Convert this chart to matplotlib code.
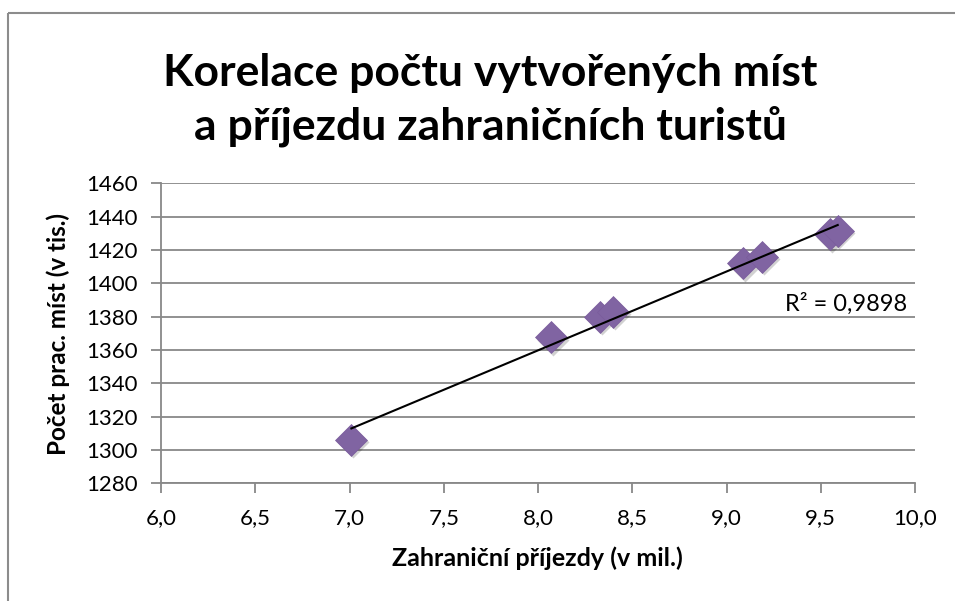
import numpy as np
import matplotlib
matplotlib.use("Agg")
import matplotlib.pyplot as plt
import matplotlib.transforms as mtransforms
from matplotlib.patches import Rectangle

plt.rcParams['font.family'] = ['Lato', 'DejaVu Sans']

# Data
arrivals = [7.01, 8.07, 8.33, 8.40, 9.09, 9.19, 9.55, 9.59]     # Zahraniční příjezdy (v mil.)
jobs = [1306, 1367.5, 1380, 1383, 1412, 1416, 1429.5, 1431.5]    # Počet prac. míst (v tis.)
x_ticks = [6.0, 6.5, 7.0, 7.5, 8.0, 8.5, 9.0, 9.5, 10.0]
y_ticks = [1280, 1300, 1320, 1340, 1360, 1380, 1400, 1420, 1440, 1460]
title = "Korelace počtu vytvořených míst\na příjezdu zahraničních turistů"
xlabel = "Zahraniční příjezdy (v mil.)"
ylabel = "Počet prac. míst (v tis.)"
r2_label = "R² = 0,9898"

W, H = 955, 601
fig = plt.figure(figsize=(W / 100, H / 100), dpi=100)
fig.patch.set_facecolor('white')

# outer chart border (partially off-canvas)
fig.patches.append(Rectangle((8 / W, 1 - 13 / H), 2, -2, transform=fig.transFigure,
                             fill=False, edgecolor='#8c8c8c', lw=1.5))

L, R, T, B = 161, 915, 183.3, 483.3
ax = fig.add_axes([L / W, 1 - B / H, (R - L) / W, (B - T) / H])
ax.set_xlim(6.0, 10.0)
ax.set_ylim(1280, 1460)
ax.set_xticks(x_ticks)
ax.set_yticks(y_ticks)
ax.set_xticklabels([f"{v:.1f}".replace('.', ',') for v in x_ticks])
ax.set_yticklabels([str(v) for v in y_ticks])

for s in ['top', 'right']:
    ax.spines[s].set_visible(False)
for s in ['left', 'bottom']:
    ax.spines[s].set_color('#888888')
    ax.spines[s].set_linewidth(1.3)
ax.tick_params(axis='both', direction='out', length=7, width=1.3, color='#888888',
               labelsize=16, labelcolor='black')
ax.tick_params(axis='x', pad=11)
ax.tick_params(axis='y', pad=10)
ax.yaxis.grid(True, color='#888888', lw=1.3)
ax.set_axisbelow(True)

# shadows
shadow = mtransforms.offset_copy(ax.transData, fig=fig, x=1.5, y=-2.5, units='dots')
ax.plot(arrivals, jobs, linestyle='none', marker='D', ms=16, color='#000000', alpha=0.18,
        mec='none', transform=shadow, zorder=2)
ax.plot(arrivals, jobs, linestyle='none', marker='D', ms=16, color='#8064A2', mec='#7a5c9c',
        mew=0.5, zorder=3)

# linear trendline
coef = np.polyfit(arrivals, jobs, 1)
xs = np.array([min(arrivals), max(arrivals)])
ax.plot(xs, np.polyval(coef, xs), color='black', lw=1.5, zorder=4)

ax.text(9.96, 1388, r2_label, fontsize=17, ha='right', va='center', zorder=5)

ax.set_xlabel(xlabel, fontsize=18, fontweight='bold')
ax.set_ylabel(ylabel, fontsize=17.5, fontweight='bold')
ax.xaxis.set_label_coords((537 - L) / (R - L), (B - 558) / (B - T), transform=ax.transAxes)
ax.xaxis.label.set_va('center')
ax.yaxis.set_label_coords((58 - L) / (R - L), (B - 334) / (B - T), transform=ax.transAxes)
ax.yaxis.label.set_va('center')

fig.text(490 / W, 1 - 100 / H, title, fontsize=32, fontweight='bold', ha='center', va='center',
         linespacing=1.38)

fig.savefig('out.png', dpi=100)
